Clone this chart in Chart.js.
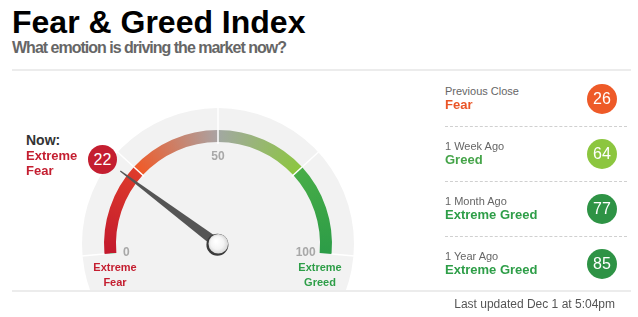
<!DOCTYPE html>
<html>
<head>
<meta charset="utf-8">
<script src="https://cdn.jsdelivr.net/npm/chart.js@4"></script>
<style>
    body { margin: 0; width: 638px; height: 317px; background: #fff; position: relative; overflow: hidden;
           font-family: "Liberation Sans", Arial, sans-serif; }
    .abs { position: absolute; white-space: nowrap; line-height: 1; }
    .title { left: 12px; top: 6px; font-size: 32px; font-weight: bold; color: #000; }
    .sub { left: 12px; top: 39.5px; font-size: 16px; font-weight: bold; color: #666; letter-spacing: -1px; }
    .rule { position: absolute; left: 12px; width: 619px; height: 2px; background: #ececec; }
    .now { left: 26px; top: 133px; font-size: 14px; font-weight: bold; color: #333; }
    .nowRating { left: 26px; top: 148px; font-size: 13px; font-weight: bold; color: #c41e30; line-height: 15px; }
    .dot { position: absolute; border-radius: 50%; color: #fff; text-align: center; font-size: 16px; }
    .hLabel { font-size: 11px; color: #666; }
    .hRating { font-size: 13px; font-weight: bold; }
    .dash { position: absolute; left: 445px; width: 182px; border-top: 1px dashed #d0d0d0; }
    .updated { right: 23px; top: 298px; font-size: 12px; color: #555; }
    #gaugeBox { position: absolute; left: 68px; top: 93px; width: 300px; height: 198px; }
</style>
</head>
<body>
<div class="abs title">Fear &amp; Greed Index</div>
<div class="abs sub">What emotion is driving the market now?</div>
<div class="rule" style="top:69px"></div>
<div id="gaugeBox"><canvas id="gauge"></canvas></div>
<div class="rule" style="top:290px"></div>
<div class="abs now">Now:</div>
<div class="abs nowRating" id="nowRating"></div>
<div id="side"></div>
<div class="abs updated">Last updated Dec 1 at 5:04pm</div>

<script>
const zoneLimits = [0, 25, 50, 75, 100];
const zoneSizes = [25, 25, 25, 25];
const tickValues = [0, 50, 100];
const endLabels = [['Extreme', 'Fear'], ['Extreme', 'Greed']];
const nowValue = 22;
const nowRating = ['Extreme', 'Fear'];
const historyLabels = ['Previous Close', '1 Week Ago', '1 Month Ago', '1 Year Ago'];
const historyValues = [26, 64, 77, 85];
const historyRatings = ['Fear', 'Greed', 'Extreme Greed', 'Extreme Greed'];

const ROT = -95;
const CIRC = 190;

function ratingColor(v) {
    if (v < 25) return '#c41e30';
    if (v < 45) return '#ee5a28';
    if (v < 55) return '#999';
    if (v < 75) return '#8cc63f';
    return '#2e9345';
}
function ratingTextColor(v) {
    if (v < 25) return '#c41e30';
    if (v < 45) return '#ea5527';
    if (v < 75) return '#45a449';
    return '#2e9e48';
}

// left "now" block
document.getElementById('nowRating').innerHTML = nowRating.join('<br>');
const nowDot = document.createElement('div');
nowDot.className = 'dot';
nowDot.style.cssText = 'left:88px;top:145px;width:29px;height:29px;line-height:29px;background:' + ratingColor(nowValue);
nowDot.textContent = nowValue;
document.body.appendChild(nowDot);

// right history column
const side = document.getElementById('side');
historyValues.forEach(function (v, i) {
    const y = i * 55;
    const lab = document.createElement('div');
    lab.className = 'abs hLabel';
    lab.style.left = '445px';
    lab.style.top = (86 + y) + 'px';
    lab.textContent = historyLabels[i];
    side.appendChild(lab);

    const rat = document.createElement('div');
    rat.className = 'abs hRating';
    rat.style.left = '445px';
    rat.style.top = (98 + y) + 'px';
    rat.style.color = ratingTextColor(v);
    rat.textContent = historyRatings[i];
    side.appendChild(rat);

    const dot = document.createElement('div');
    dot.className = 'dot';
    dot.style.cssText = 'left:587px;top:' + (84 + y) + 'px;width:30px;height:30px;line-height:30px;background:' + ratingColor(v);
    dot.textContent = v;
    side.appendChild(dot);

    if (i < historyValues.length - 1) {
        const d = document.createElement('div');
        d.className = 'dash';
        d.style.top = (126 + y) + 'px';
        side.appendChild(d);
    }
});

function valueAngle(v) {
    return (ROT - 90 + CIRC * v / 100) * Math.PI / 180;
}

function gaugeCenter(chart) {
    const area = chart.chartArea;
    const ctrl = chart.getDatasetMeta(0).controller;
    return {
        x: (area.left + area.right) / 2 + (ctrl.offsetX || 0),
        y: (area.top + area.bottom) / 2 + (ctrl.offsetY || 0)
    };
}

function bandGradient(context) {
    const chart = context.chart;
    if (!chart.chartArea) return '#ccc';
    const c = gaugeCenter(chart);
    const g = chart.ctx.createConicGradient(valueAngle(0), c.x, c.y);
    const f = CIRC / 360 / 100;
    g.addColorStop(0, '#c3192d');
    g.addColorStop(24.9 * f, '#de3b2b');
    g.addColorStop(25.1 * f, '#f05a28');
    g.addColorStop(49.9 * f, '#aaa3a3');
    g.addColorStop(50.1 * f, '#a2a8a2');
    g.addColorStop(74.9 * f, '#8cc63f');
    g.addColorStop(75.1 * f, '#48ad48');
    g.addColorStop(100 * f, '#2c9c47');
    g.addColorStop(1, '#2c9c47');
    return g;
}

const gaugeDecor = {
    id: 'gaugeDecor',
    beforeDatasetsDraw: function (chart) {
        const ctx = chart.ctx;
        const c = gaugeCenter(chart);
        ctx.save();
        ctx.fillStyle = '#f2f2f2';
        ctx.beginPath();
        ctx.arc(c.x, c.y, 136, 0, Math.PI * 2);
        ctx.fill();
        ctx.restore();
    },
    afterDatasetsDraw: function (chart) {
        const ctx = chart.ctx;
        const c = gaugeCenter(chart);
        const arc = chart.getDatasetMeta(0).data[0];
        const rIn = arc.innerRadius, rOut = arc.outerRadius;
        ctx.save();

        // white separators
        ctx.strokeStyle = '#fff';
        ctx.lineWidth = 1.5;
        zoneLimits.forEach(function (v, i) {
            const a = valueAngle(v);
            const r0 = (i === 0 || i === zoneLimits.length - 1) ? rOut : rIn - 2;
            ctx.beginPath();
            ctx.moveTo(c.x + Math.cos(a) * r0, c.y + Math.sin(a) * r0);
            ctx.lineTo(c.x + Math.cos(a) * 137, c.y + Math.sin(a) * 137);
            ctx.stroke();
        });

        // tick labels
        ctx.fillStyle = '#a8a8a8';
        ctx.font = 'bold 12px "Liberation Sans", Arial, sans-serif';
        ctx.textAlign = 'center';
        ctx.textBaseline = 'middle';
        tickValues.forEach(function (v) {
            const a = valueAngle(v);
            const r = v === 50 ? 88 : 92;
            let x = c.x + Math.cos(a) * r;
            if (v === 100) x -= 4;
            ctx.fillText(String(v), x, c.y + Math.sin(a) * r + 1);
        });

        // end labels
        ctx.font = 'bold 11px "Liberation Sans", Arial, sans-serif';
        ctx.textBaseline = 'alphabetic';
        endLabels.forEach(function (lines, i) {
            const x = i === 0 ? c.x - 103 : c.x + 102;
            ctx.fillStyle = i === 0 ? '#c41e30' : '#2e9e48';
            lines.forEach(function (t, j) {
                ctx.fillText(t, x, c.y + 27 + j * 15);
            });
        });

        // needle
        const a = valueAngle(nowValue);
        const ux = Math.cos(a), uy = Math.sin(a);
        const px = -uy, py = ux;
        ctx.fillStyle = '#555';
        ctx.beginPath();
        ctx.moveTo(c.x + px * 5, c.y + py * 5);
        ctx.lineTo(c.x + ux * 122 + px * 0.6, c.y + uy * 122 + py * 0.6);
        ctx.lineTo(c.x + ux * 122 - px * 0.6, c.y + uy * 122 - py * 0.6);
        ctx.lineTo(c.x - px * 5, c.y - py * 5);
        ctx.closePath();
        ctx.fill();

        // pivot
        ctx.fillStyle = '#3a3a3a';
        ctx.beginPath();
        ctx.arc(c.x - 0.6, c.y + 0.6, 11, 0, Math.PI * 2);
        ctx.fill();
        const g = ctx.createRadialGradient(c.x - 2, c.y - 3, 1, c.x, c.y, 10);
        g.addColorStop(0, '#ffffff');
        g.addColorStop(0.6, '#f4f4f4');
        g.addColorStop(1, '#d6d6d6');
        ctx.fillStyle = g;
        ctx.beginPath();
        ctx.arc(c.x + 0.3, c.y - 0.3, 9.8, 0, Math.PI * 2);
        ctx.fill();
        ctx.restore();
    }
};

new Chart(document.getElementById('gauge').getContext('2d'), {
    type: 'doughnut',
    data: {
        labels: ['Extreme Fear', 'Fear', 'Greed', 'Extreme Greed'],
        datasets: [{
            data: zoneSizes,
            backgroundColor: bandGradient,
            borderWidth: 0
        }]
    },
    options: {
        responsive: true,
        maintainAspectRatio: false,
        animation: false,
        rotation: ROT,
        circumference: CIRC,
        radius: 114,
        cutout: '89.5%',
        plugins: {
            legend: { display: false },
            tooltip: { enabled: false }
        }
    },
    plugins: [gaugeDecor]
});
</script>
</body>
</html>
